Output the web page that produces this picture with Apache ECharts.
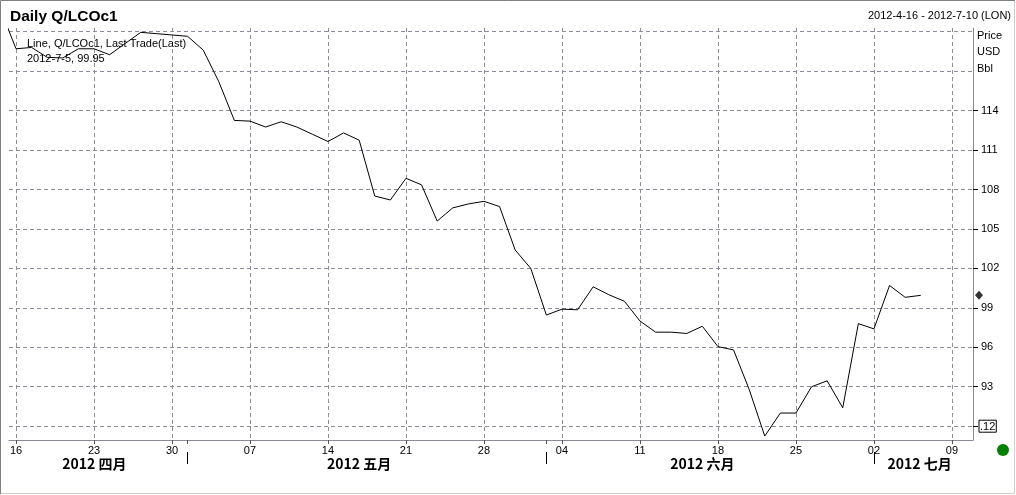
<!DOCTYPE html>
<html><head><meta charset="utf-8">
<script src="https://cdn.jsdelivr.net/npm/echarts@6/dist/echarts.min.js"></script>
<style>html,body{margin:0;padding:0;background:#fff}#c{width:1016px;height:495px}</style>
</head><body><div id="c"></div>
<script>
// trading days (year 2012), the first one lies just left of the visible range
const dates = ['04-13','04-16','04-17','04-18','04-19','04-20','04-23','04-24','04-25','04-26','04-27','04-30',
'05-01','05-02','05-03','05-04','05-07','05-08','05-09','05-10','05-11','05-14','05-15','05-16','05-17','05-18',
'05-21','05-22','05-23','05-24','05-25','05-28','05-29','05-30','05-31',
'06-01','06-04','06-05','06-06','06-07','06-08','06-11','06-12','06-13','06-14','06-15','06-18','06-19','06-20',
'06-21','06-22','06-25','06-26','06-27','06-28','06-29',
'07-02','07-03','07-04','07-05','07-06','07-09','07-10'];
const prices = [121.7,118.7,118.8,118.05,118.0,118.7,118.7,118.25,119.1,119.95,119.85,119.75,
119.65,118.6,116.2,113.25,113.2,112.75,113.15,112.75,112.2,111.65,112.3,111.75,107.5,107.2,
108.85,108.35,105.6,106.6,106.9,107.1,106.7,103.4,102.0,
98.45,98.9,98.85,100.6,100.0,99.5,98.0,97.15,97.15,97.05,97.6,96.05,95.8,92.8,
89.25,91.0,91.0,93.0,93.45,91.4,97.8,
97.4,100.7,99.8,99.95];
const gridValues = [90,93,96,99,102,105,108,111,114,117,120];
const yTicks = [90,93,96,99,102,105,108,111,114];
const yTickLabels = ['.12','93','96','99','102','105','108','111','114'];
const monthNames = {'04':'2012 四月','05':'2012 五月','06':'2012 六月','07':'2012 七月'};
const unitLabels = ['Price','USD','Bbl'];
const seriesName = 'Line, Q/LCOc1, Last Trade(Last)';
const titleText = 'Daily Q/LCOc1';
const rangeText = '2012-4-16 - 2012-7-10 (LON)';
const year = 2012;

const FONT = '"Liberation Sans", Arial, sans-serif';
const GRID = '#8c8c9c';
const xMin = 0.551, xMax = 62.35;
const yMin = 88.95, yMax = 120.28;

const mondays = [];
dates.forEach((d, i) => {
  const [m, dd] = d.split('-').map(Number);
  if (new Date(year, m - 1, dd).getDay() === 1) mondays.push(i);
});
const monthKeys = [];
const monthFirst = {}, monthLast = {};
dates.forEach((d, i) => {
  const m = d.slice(0, 2);
  if (!(m in monthFirst)) { monthFirst[m] = i; monthKeys.push(m); }
  monthLast[m] = i;
});
const monthStarts = monthKeys.slice(1).map(m => monthFirst[m]);
const monthCenters = monthKeys.map(m => {
  const a = Math.max(monthFirst[m] - 0.5, xMin), b = Math.min(monthLast[m] + 0.5, xMax);
  return (a + b) / 2;
});
const lineData = prices.map((v, i) => [i, v]);
const lastIdx = prices.length - 1;
const lastText = year + '-' + (+dates[lastIdx].slice(0,2)) + '-' + (+dates[lastIdx].slice(3)) + ', ' + prices[lastIdx].toFixed(2);

const chart = echarts.init(document.getElementById('c'));
chart.setOption({
  animation: false,
  backgroundColor: '#fff',
  title: [
    { text: titleText, left: 5, top: 4, textStyle: { fontFamily: FONT, fontSize: 15.5, fontWeight: 'bold', color: '#000' } },
    { text: rangeText, right: 0, top: 5, textStyle: { fontFamily: FONT, fontSize: 11, fontWeight: 'normal', color: '#000' } },
    { text: lastText, left: 22, top: 48, textStyle: { fontFamily: FONT, fontSize: 11, fontWeight: 'normal', color: '#000' } }
  ],
  legend: {
    data: [{ name: seriesName, icon: 'none' }],
    left: 22, top: 38, padding: 0, itemWidth: 0, itemHeight: 0, selectedMode: false,
    textStyle: { fontFamily: FONT, fontSize: 11, color: '#000' }
  },
  grid: { left: 9, right: 43, top: 28, bottom: 55, containLabel: false },
  xAxis: [
    {
      type: 'value', min: xMin, max: xMax, position: 'bottom',
      axisLine: { show: true, onZero: false, lineStyle: { color: '#8a8a9a', width: 1 } },
      axisTick: { show: true, customValues: mondays, length: 4, lineStyle: { color: '#555' } },
      axisLabel: { show: true, customValues: mondays, margin: 5, fontFamily: FONT, fontSize: 11, color: '#000',
        formatter: v => dates[Math.round(v)].slice(3) },
      splitLine: { show: true, lineStyle: { color: GRID, type: [4, 3], width: 1 } }
    },
    {
      type: 'value', min: xMin, max: xMax, position: 'bottom', offset: 12,
      axisLine: { show: false },
      axisTick: { show: true, customValues: monthStarts, length: 12, lineStyle: { color: '#000', width: 1 } },
      axisLabel: { show: true, customValues: monthCenters, margin: 5, fontFamily: '"Noto Sans CJK SC", sans-serif',
        fontSize: 14, fontWeight: 'bold', color: '#000',
        formatter: v => {
          let best = 0;
          monthCenters.forEach((c, k) => { if (Math.abs(c - v) < Math.abs(monthCenters[best] - v)) best = k; });
          return monthNames[monthKeys[best]];
        } },
      splitLine: { show: false }
    },
    {
      type: 'value', min: xMin, max: xMax, position: 'bottom', offset: 0,
      axisLine: { show: false },
      axisTick: { show: true, customValues: monthStarts.slice(0, 2), length: 4, lineStyle: { color: '#555' } },
      axisLabel: { show: false },
      splitLine: { show: false }
    }
  ],
  yAxis: [
    {
      type: 'value', position: 'right', min: yMin, max: yMax,
      axisLine: { show: true, lineStyle: { color: '#8a8a9a', width: 1 } },
      axisTick: { show: true, customValues: yTicks, length: 5, lineStyle: { color: '#000' } },
      axisLabel: { show: true, customValues: yTicks, margin: 6, fontFamily: FONT, fontSize: 11, color: '#000',
        formatter: v => {
          const t = yTickLabels[yTicks.indexOf(Math.round(v))];
          return v === yTicks[0] ? '{box|' + t + '}' : '{n|' + t + '}';
        },
        rich: {
          box: { borderColor: '#000', borderWidth: 1, padding: [1, 1, 0, 1], fontFamily: FONT, fontSize: 11, color: '#000' },
          n: { padding: [0, 0, 0, 2], fontFamily: FONT, fontSize: 11, color: '#000' }
        } },
      splitLine: { show: false }
    },
    {
      type: 'value', position: 'right', min: yMin, max: yMax,
      axisLine: { show: false },
      axisTick: { show: false, customValues: gridValues },
      axisLabel: { show: false, customValues: gridValues },
      splitLine: { show: true, lineStyle: { color: GRID, type: [4, 3], width: 1 } }
    }
  ],
  series: [
    { name: seriesName, type: 'line', data: lineData, showSymbol: false, symbol: 'none', clip: true,
      lineStyle: { color: '#000', width: 1 }, itemStyle: { color: '#000' }, z: 3 },
    { name: 'last', type: 'scatter', data: [[xMax, prices[lastIdx]]], symbol: 'diamond', symbolSize: [8, 9],
      symbolOffset: [6, 0], clip: false, itemStyle: { color: '#000' }, z: 4, silent: true }
  ],
  graphic: [
    ...unitLabels.map((t, k) => ({ type: 'text', left: 977, top: 30 + k * 16.6,
      style: { text: t, fontFamily: FONT, fontSize: 11, fill: '#000' } })),
    { type: 'circle', shape: { cx: 1003, cy: 450, r: 6 }, style: { fill: '#008000' } },
    { type: 'rect', shape: { x: 0.5, y: 0.5, width: 1014, height: 493 }, style: { fill: 'none', stroke: '#d4d0c8', lineWidth: 1 }, silent: true },
    { type: 'polyline', shape: { points: [[0.5, 494], [0.5, 0.5], [1015, 0.5]] }, style: { fill: 'none', stroke: '#808080', lineWidth: 1 }, silent: true }
  ]
});
</script>
</body></html>
